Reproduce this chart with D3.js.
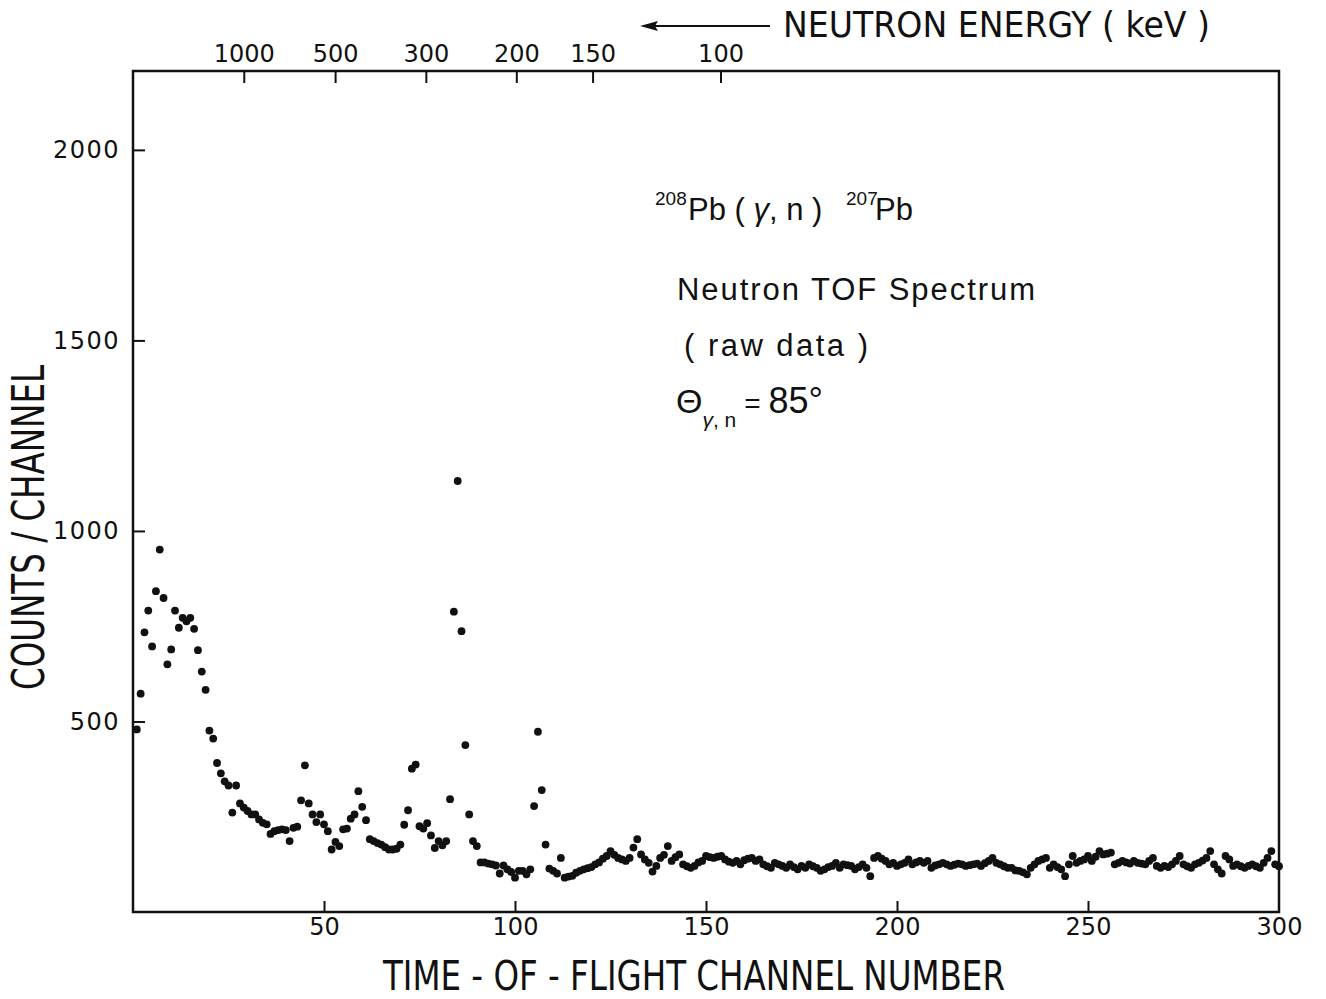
<!DOCTYPE html>
<html>
<head>
<meta charset="utf-8">
<script src="https://cdn.jsdelivr.net/npm/d3@7"></script>
<style>
  body { margin: 0; background: #fff; }
  svg text { fill: #111; }
  .num { font-family: 'DejaVu Sans', sans-serif; font-size: 24px; }
  .title { font-family: 'Liberation Sans Narrow', 'DejaVu Sans Condensed', sans-serif; }
  .note { font-family: 'Liberation Sans', 'Noto Sans', sans-serif; }
</style>
</head>
<body>
<div id="chart"></div>
<script>
// raw counts per TOF channel (channels 1..300)
const counts = [
  479, 573, 734, 791, 697, 842, 951, 824, 650, 689,   // 1-10
  791, 746, 772, 763, 772, 743, 687, 631, 583, 476,   // 11-20
  455, 391, 364, 343, 332, 261, 332, 285, 274, 265,   // 21-30
  256, 256, 243, 234, 230, 205, 212, 215, 217, 215,   // 31-40
  186, 221, 224, 293, 385, 285, 256, 236, 256, 230,   // 41-50
  212, 164, 184, 173, 217, 219, 245, 256, 317, 276,   // 51-60
  241, 191, 186, 181, 177, 170, 164, 164, 166, 177,   // 61-70
  229, 267, 376, 387, 225, 219, 233, 201, 168, 186,   // 71-80
  175, 186, 296, 788, 1131, 737, 438, 256, 186, 173,  // 81-90
  130, 130, 127, 125, 122, 101, 122, 112, 105, 90,    // 91-100
  108, 108, 99, 112, 278, 473, 320, 177, 114, 108,    // 101-110
  101, 142, 90, 93, 95, 103, 108, 112, 115, 118,      // 111-120
  125, 130, 140, 147, 160, 150, 142, 138, 134, 142,   // 121-130
  169, 191, 151, 138, 129, 106, 121, 142, 150, 173,   // 131-140
  134, 144, 151, 125, 120, 116, 121, 130, 134, 147,   // 141-150
  144, 142, 145, 147, 138, 132, 129, 134, 125, 136,   // 151-160
  140, 142, 134, 138, 125, 120, 116, 129, 125, 121,   // 161-170
  116, 125, 118, 112, 121, 116, 125, 120, 116, 108,   // 171-180
  112, 118, 121, 129, 116, 125, 123, 121, 112, 118,   // 181-190
  125, 116, 94, 142, 147, 140, 134, 125, 129, 121,    // 191-200
  125, 129, 138, 125, 130, 134, 129, 134, 116, 122,   // 201-210
  125, 129, 125, 121, 124, 127, 125, 121, 123, 125,   // 211-220
  127, 121, 128, 134, 142, 129, 125, 120, 116, 116,   // 221-230
  109, 108, 104, 99, 116, 125, 134, 138, 142, 116,    // 231-240
  125, 118, 112, 94, 125, 147, 129, 134, 138, 147,    // 241-250
  134, 145, 160, 151, 153, 156, 125, 129, 134, 130,   // 251-260
  127, 134, 129, 127, 125, 134, 142, 121, 116, 121,   // 261-270
  118, 125, 134, 147, 125, 120, 116, 125, 129, 135,   // 271-280
  142, 160, 125, 112, 101, 147, 138, 121, 125, 120,   // 281-290
  116, 121, 125, 120, 116, 129, 142, 160, 125, 120    // 291-300
];
const channels = counts.map((c, i) => i + 1);

const xTicks = [50, 100, 150, 200, 250, 300];
const yTicks = [500, 1000, 1500, 2000];
const energyTicks = [1000, 500, 300, 200, 150, 100];   // keV
// channel where the 1000 keV and 100 keV marks sit (t ~ 1/sqrt(E))
const energyCalibChannels = [29.0, 153.8];

const W = 1326, H = 999;
const m = {left: 133, right: 1279, top: 71, bottom: 912};

let svg = d3.select('#chart')
  .append('svg')
  .attr('width', W)
  .attr('height', H);

let x = d3.scaleLinear().domain([0, 300]).range([m.left, m.right]);
let y = d3.scaleLinear().domain([0, 2207]).range([m.bottom, m.top]);
// top axis: neutron energy, linear in E^-1/2
let xE = d3.scalePow().exponent(-0.5)
  .domain([energyTicks[0], energyTicks[energyTicks.length - 1]])
  .range(energyCalibChannels.map(x));

/**
 * strips an axis group down to ticks + labels
 * @param {object} g axis group
 */
function plainAxis(g) {
  g.select('.domain').remove();
  g.selectAll('.tick line').attr('stroke', '#111').attr('stroke-width', 2);
  g.selectAll('.tick text').attr('class', 'num').attr('fill', '#111');
}

// bottom axis, ticks pointing inward
svg.append('g')
  .attr('transform', 'translate(0,' + m.bottom + ')')
  .call(d3.axisBottom(x).tickValues(xTicks).tickFormat(d3.format('d'))
    .tickSizeInner(-11).tickSizeOuter(0).tickPadding(12))
  .call(plainAxis)
  .call(g => g.selectAll('.tick line').filter(d => d === 300).remove())
  .call(g => g.selectAll('.tick text').attr('dy', '0.71em').attr('y', 6));

// left axis
svg.append('g')
  .attr('transform', 'translate(' + m.left + ',0)')
  .call(d3.axisLeft(y).tickValues(yTicks).tickFormat(d3.format('d'))
    .tickSizeInner(-12).tickSizeOuter(0).tickPadding(13))
  .call(plainAxis)
  .call(g => g.selectAll('.tick text').attr('letter-spacing', '1.5px'));

// top axis, energy
svg.append('g')
  .attr('transform', 'translate(0,' + m.top + ')')
  .call(d3.axisTop(xE).tickValues(energyTicks).tickFormat(d3.format('d'))
    .tickSizeInner(-12).tickSizeOuter(0).tickPadding(9))
  .call(plainAxis);

// frame
svg.append('rect')
  .attr('x', m.left)
  .attr('y', m.top)
  .attr('width', m.right - m.left)
  .attr('height', m.bottom - m.top)
  .attr('fill', 'none')
  .attr('stroke', '#111')
  .attr('stroke-width', 2.5);

// data points
svg.append('g')
  .selectAll('circle')
  .data(counts)
  .join('circle')
  .attr('cx', (d, i) => x(channels[i]))
  .attr('cy', d => y(d))
  .attr('r', 3.9)
  .attr('fill', '#111');

// axis titles
svg.append('text')
  .attr('class', 'title')
  .attr('x', 383)
  .attr('y', 990)
  .attr('font-size', 40)
  .attr('textLength', 622)
  .attr('lengthAdjust', 'spacingAndGlyphs')
  .text('TIME - OF - FLIGHT CHANNEL  NUMBER');

svg.append('text')
  .attr('class', 'title')
  .attr('transform', 'translate(44,690) rotate(-90)')
  .attr('font-size', 44)
  .attr('textLength', 325)
  .attr('lengthAdjust', 'spacingAndGlyphs')
  .text('COUNTS / CHANNEL');

svg.append('text')
  .attr('class', 'title')
  .attr('x', 783)
  .attr('y', 37)
  .attr('font-size', 35)
  .attr('textLength', 427)
  .attr('lengthAdjust', 'spacingAndGlyphs')
  .text('NEUTRON ENERGY ( keV )');

// arrow pointing to higher energy
svg.append('line')
  .attr('x1', 652).attr('y1', 26)
  .attr('x2', 770).attr('y2', 26)
  .attr('stroke', '#111')
  .attr('stroke-width', 1.8);
svg.append('path')
  .attr('d', 'M640,26 L658,21 L655,26 L658,31 Z')
  .attr('fill', '#111');

// annotation block
let note = svg.append('g').attr('class', 'note');

let r1 = note.append('text').attr('y', 220).attr('font-size', 31);
r1.append('tspan').attr('x', 655).attr('dy', -15).attr('font-size', 19).text('208');
r1.append('tspan').attr('x', 688).attr('dy', 15).text('Pb ( ');
r1.append('tspan').attr('font-style', 'italic').text('γ');
r1.append('tspan').text(', n )');
r1.append('tspan').attr('x', 846).attr('dy', -15).attr('font-size', 19).text('207');
r1.append('tspan').attr('x', 875).attr('dy', 15).text('Pb');

note.append('text')
  .attr('x', 677)
  .attr('y', 300)
  .attr('font-size', 31)
  .attr('textLength', 358)
  .attr('lengthAdjust', 'spacing')
  .text('Neutron  TOF  Spectrum');

note.append('text')
  .attr('x', 684)
  .attr('y', 356)
  .attr('font-size', 31)
  .attr('textLength', 184)
  .attr('lengthAdjust', 'spacing')
  .text('( raw  data )');

let r4 = note.append('text').attr('x', 676).attr('y', 413).attr('font-size', 34);
r4.append('tspan').text('Θ');
r4.append('tspan').attr('dy', 14).attr('font-size', 21).attr('font-style', 'italic').text('γ');
r4.append('tspan').attr('font-size', 21).text(', n');
r4.append('tspan').attr('dy', -14).attr('dx', 8).attr('font-size', 28).text('= ');
r4.append('tspan').attr('font-size', 36).text('85°');
</script>
</body>
</html>
